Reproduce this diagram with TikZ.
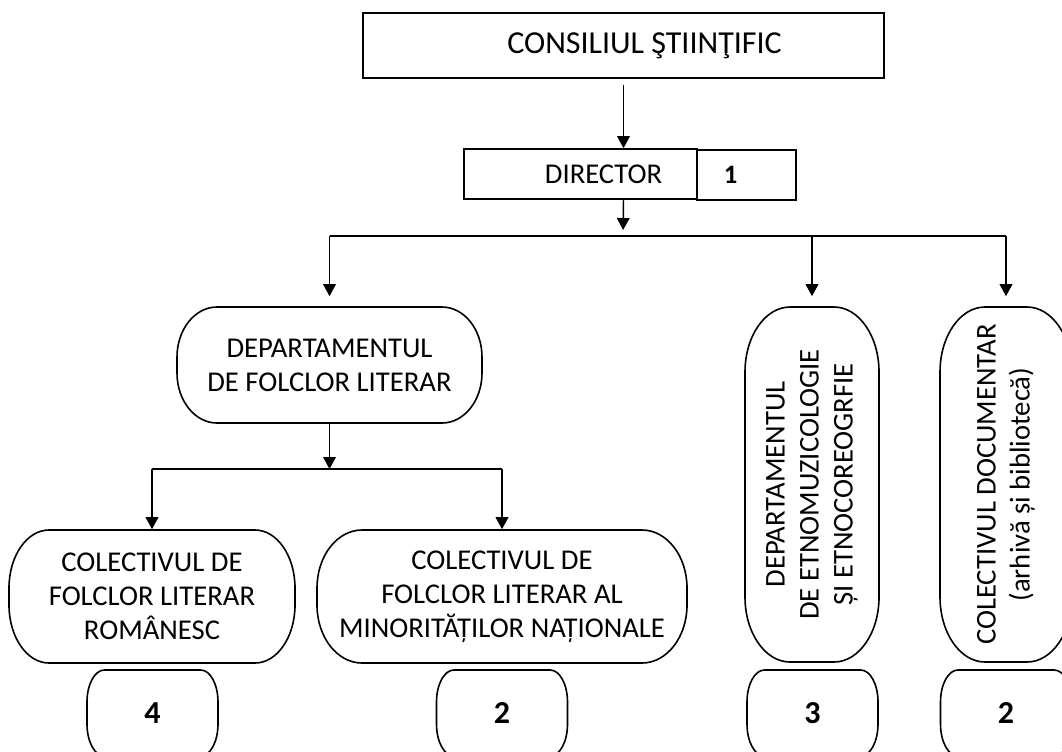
\documentclass[tikz,border=0pt]{standalone}
\usepackage{fontspec}
\setmainfont{Carlito}
\usetikzlibrary{arrows.meta}
% frame with elliptic corners round a node: name, half width, half height, rx, ry (pt)
\newcommand\ovalframe[5]{%
  \draw[line width=1.2pt] ([shift={(-#2pt+#4pt,#3pt)}]#1.center) -- ([shift={(#2pt-#4pt,#3pt)}]#1.center)
    arc[start angle=90,end angle=0,x radius=#4pt,y radius=#5pt] -- ([shift={(#2pt,-#3pt+#5pt)}]#1.center)
    arc[start angle=0,end angle=-90,x radius=#4pt,y radius=#5pt] -- ([shift={(-#2pt+#4pt,-#3pt)}]#1.center)
    arc[start angle=270,end angle=180,x radius=#4pt,y radius=#5pt] -- ([shift={(-#2pt,#3pt-#5pt)}]#1.center)
    arc[start angle=180,end angle=90,x radius=#4pt,y radius=#5pt] -- cycle;}
\begin{document}
\begin{tikzpicture}[x=0.75pt,y=-0.75pt,
    box/.style={draw,line width=1.2pt,inner sep=0pt,align=center,font=\fontsize{21.5}{25.5}\selectfont},
    blob/.style={box,draw=none},
    numbox/.style={box,draw=none,minimum width=98.25pt,minimum height=64.5pt,font=\fontsize{24}{28}\selectfont\bfseries},
    arr/.style={line width=1.1pt,-{Triangle[length=9pt,width=9.5pt]}}]
    \useasboundingbox (0,0) rectangle (1062,751);
    \clip (0,0) rectangle (1062,751);
    %consiliu, director
    \node[box,minimum width=390.75pt,minimum height=48.75pt,font=\fontsize{24}{28}\selectfont] (cs) at (623.5,45.5) {\hspace*{31.5pt}CONSILIUL ŞTIINŢIFIC};
    \node[box,minimum width=174.75pt,minimum height=37.5pt] (dir) at (580.5,174) {\hspace*{34.5pt}DIRECTOR};
    \node[box,minimum width=74.25pt,minimum height=37.5pt,font=\fontsize{20}{24}\selectfont\bfseries] (n1) at (746.5,175) {1\hspace*{24pt}};
    %departamente (rotated ones: east is the top)
    \node[blob,minimum width=228.75pt,minimum height=87pt] (dfl) at (329.5,365) {DEPARTAMENTUL\\DE FOLCLOR LITERAR};
    \node[blob,rotate=90,minimum width=266.25pt,minimum height=100.5pt] (det) at (812,484.5) {DEPARTAMENTUL\\DE ETNOMUZICOLOGIE\\ȘI ETNOCOREOGRFIE};
    \node[blob,rotate=90,minimum width=266.25pt,minimum height=99pt] (cdoc) at (1006,484.5) {COLECTIVUL DOCUMENTAR\\(arhivă și bibliotecă)};
    \ovalframe{dfl}{114.375}{43.5}{30}{37.5}
    \ovalframe{det}{50.25}{133.125}{33.75}{48.75}
    \ovalframe{cdoc}{49.5}{133.125}{33.75}{48.75}
    %colective
    \node[blob,minimum width=214.5pt,minimum height=99.75pt] (cfr) at (152,596.5) {COLECTIVUL DE\\FOLCLOR LITERAR\\ROMÂNESC};
    \node[blob,minimum width=277.5pt,minimum height=99.75pt] (cfm) at (502,596.5) {COLECTIVUL DE\\FOLCLOR LITERAR AL\\MINORITĂȚILOR NAȚIONALE};
    \ovalframe{cfr}{107.25}{49.875}{30}{43.5}
    \ovalframe{cfm}{138.75}{49.875}{33.75}{43.5}
    %numbers
    \node[numbox] (n4) at (152.5,713) {4};
    \node[numbox] (n2a) at (502,713) {2};
    \node[numbox] (n3) at (812.5,713) {3};
    \node[numbox] (n2b) at (1006,713) {2};
    \foreach \n in {n4,n2a,n3,n2b}
        \ovalframe{\n}{49.125}{32.25}{13}{24};
    %arrows
    \coordinate (busA) at (623,236);
    \coordinate (busB) at (330,469);
    \draw[arr,shorten <=4.5pt] (cs.south) -- (cs.south |- dir.north);
    \draw[arr,shorten >=4.5pt] (dir.south -| cs.south) -- (busA);
    \draw[line width=1.1pt] (dfl |- busA) -- (cdoc |- busA);
    \draw[arr,shorten >=7.5pt] (dfl |- busA) -- (dfl.north);
    \draw[arr,shorten >=7.5pt] (det |- busA) -- (det.east);
    \draw[arr,shorten >=7.5pt] (cdoc |- busA) -- (cdoc.east);
    \draw[arr] (dfl.south) -- (dfl |- busB);
    \draw[line width=1.1pt] (cfr |- busB) -- (cfm |- busB);
    \draw[arr] (cfr |- busB) -- (cfr.north);
    \draw[arr] (cfm |- busB) -- (cfm.north);
\end{tikzpicture}
\end{document}
